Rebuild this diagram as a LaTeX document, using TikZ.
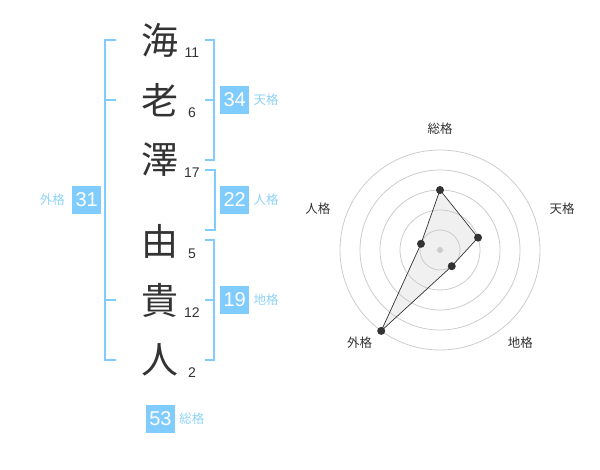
\documentclass[tikz,border=0pt]{standalone}
\usepackage{fontspec}
\setmainfont{Liberation Sans}
\newfontfamily\jpfont{Noto Sans CJK JP}
\usetikzlibrary{calc}
\definecolor{kakublue}{HTML}{80CCFF}
\definecolor{kakutext}{HTML}{8DD2F7}
\definecolor{inkgray}{HTML}{333333}
\definecolor{ringgray}{HTML}{CCCCCC}
\tikzset{%
	kanji/.style = {inner sep=0,text=inkgray,font=\jpfont\fontsize{37}{37}\selectfont},
	stroke/.style = {inner sep=0,text=inkgray,font=\fontsize{14}{14}\selectfont},
	kakubox/.style = {fill=kakublue,text=white,minimum width=29,minimum height=28,inner sep=0,font=\fontsize{20}{20}\selectfont},
	kakuname/.style = {inner sep=0,text=kakutext,font=\jpfont\fontsize{12.5}{12.5}\selectfont},
	bracket/.style = {draw=kakublue,line width=2},
	ring/.style = {draw=ringgray,line width=0.8},
	dot/.style = {circle,fill=inkgray,inner sep=0,minimum size=8},
	axisname/.style = {inner sep=0,text=inkgray,font=\jpfont\fontsize{12.5}{12.5}\selectfont}%
}
\begin{document}
\begin{tikzpicture}[x=1pt,y=-1pt]
		\useasboundingbox(0,0)rectangle(600,470);
		
		% name and strokes
		\foreach \ch/\st/\y [count=\i] in {海/11/40,老/6/100,澤/17/160,由/5/241,貴/12/300,人/2/360}{
			\node(c\i)[kanji]at(160,\y){\ch};
			\node(s\i)[stroke]at(192,{\y+12.7}){\st};
		}
		
		% brackets
		\draw[bracket](116,40)--(105,40)--(105,360)--(116,360);
		\draw[bracket](105,100)--(116,100);
		\draw[bracket](105,300)--(116,300);
		\draw[bracket](205,40)--(214,40)--(214,160)--(205,160);
		\draw[bracket](205,100)--(214,100);
		\draw[bracket](205,170)--(215,170)--(215,230)--(205,230);
		\draw[bracket](205,240)--(214,240)--(214,360)--(205,360);
		\draw[bracket](205,300)--(214,300);
		
		% kaku boxes
		\node(ten)[kakubox]at(234.7,100){34};
		\node[kakuname,anchor=west]at([xshift=4]ten.east){天格};
		\node(jin)[kakubox]at(234.7,200){22};
		\node[kakuname,anchor=west]at([xshift=4]jin.east){人格};
		\node(chi)[kakubox]at(234.7,300){19};
		\node[kakuname,anchor=west]at([xshift=4]chi.east){地格};
		\node(gai)[kakubox]at(86.7,200){31};
		\node[kakuname,anchor=east]at([xshift=-7]gai.west){外格};
		\node(sou)[kakubox]at(160.5,419){53};
		\node[kakuname,anchor=west]at([xshift=4]sou.east){総格};
		
		% radar
		\begin{scope}[shift={(440,250)},y=1pt]
			\coordinate(p1)at(90:60);
			\coordinate(p2)at(18:40);
			\coordinate(p3)at(-54:20);
			\coordinate(p4)at(-126:100);
			\coordinate(p5)at(162:20);
			\fill[black!6](p1)--(p2)--(p3)--(p4)--(p5)--cycle;
			\foreach \r in {20,40,...,100}
				\draw[ring](0,0)circle[radius=\r];
			\fill[ringgray](0,0)circle[radius=3];
			\draw[inkgray,line width=0.7](p1)--(p2)--(p3)--(p4)--(p5)--cycle;
			\foreach \i in {1,...,5}
				\node(d\i)[dot]at(p\i){};
			\foreach \nm/\a/\an [count=\i] in {総格/90/south,天格/18/south west,地格/-54/west,外格/-126/east,人格/162/south east}
				\node(n\i)[axisname,anchor=\an]at(\a:115){\nm};
		\end{scope}
		
\end{tikzpicture}
\end{document}
